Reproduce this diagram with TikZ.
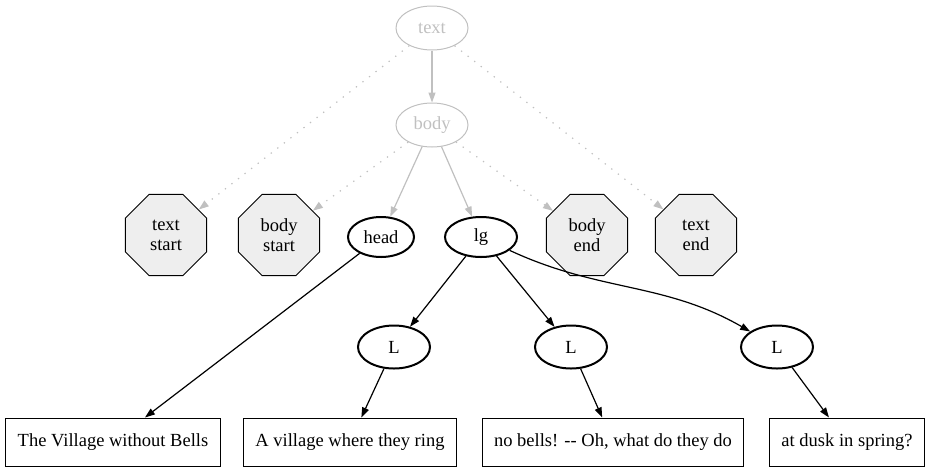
\documentclass[tikz,border=0pt]{standalone}
\usepackage{fontspec}
\setmainfont{Liberation Serif}
\usetikzlibrary{shapes.geometric, arrows.meta, positioning}
\definecolor{lightgrey}{HTML}{C0C0C0}
\definecolor{octgrey}{HTML}{EEEEEE}

\begin{document}
\begin{tikzpicture}[x=1pt, y=-1pt,
	every node/.style={font=\fontsize{18.5}{20}\selectfont, inner sep=0pt},
	greyell/.style={ellipse, draw=lightgrey, text=lightgrey, line width=1pt, minimum width=72, minimum height=44},
	boldell/.style={ellipse, draw, line width=2pt, minimum width=70, minimum height=40},
	octa/.style={regular polygon, regular polygon sides=8, draw, fill=octgrey, line width=1pt, minimum size=88, align=center},
	leaf/.style={rectangle, draw, line width=1pt, minimum height=48, inner xsep=12pt},
	greyarr/.style={draw=lightgrey, line width=1.2pt, -{Triangle[length=10pt, width=7pt, fill=lightgrey]}},
	dotarr/.style={greyarr, dash pattern=on 1.3pt off 7pt},
	blackarr/.style={line width=1.2pt, -{Triangle[length=10pt, width=7pt]}}]
	\useasboundingbox (0,0) rectangle (928,472);

	\draw (432,28) node[greyell] (txt) {text}
	(432,125) node[greyell] (body) {body}
	(166,235) node[octa] (txtstart) {text\\start}
	(279,235) node[octa] (bodystart) {body\\start}
	(381,237) node[boldell, minimum width=66] (head) {head}
	(481,237) node[boldell, minimum width=72] (lg) {lg}
	(587,235) node[octa] (bodyend) {body\\end}
	(696,235) node[octa] (txtend) {text\\end}
	(394,347) node[boldell, minimum width=72, minimum height=43] (l1) {L}
	(571,347) node[boldell, minimum width=72, minimum height=43] (l2) {L}
	(777,347) node[boldell, minimum width=72, minimum height=43] (l3) {L}
	(113,442) node[leaf] (title) {The Village without Bells}
	(350,442) node[leaf] (line1) {A village where they ring}
	(613,442) node[leaf] (line2) {no bells! -{}- Oh, what do they do}
	(847,442) node[leaf] (line3) {at dusk in spring?};

	\draw[greyarr] (txt) -- (body);
	\draw[dotarr] (txt) -- (txtstart);
	\draw[dotarr] (txt) -- (txtend);
	\draw[dotarr] (body) -- (bodystart);
	\draw[greyarr] (body) -- (head);
	\draw[greyarr] (body) -- (lg);
	\draw[dotarr] (body) -- (bodyend);
	\draw[blackarr] (head) -- (title);
	\draw[blackarr] (lg) -- (l1);
	\draw[blackarr] (lg) -- (l2);
	\draw[blackarr] (lg) to[out=-25, in=150] (l3);
	\draw[blackarr] (l1) -- (line1);
	\draw[blackarr] (l2) -- (line2);
	\draw[blackarr] (l3) -- (line3);
\end{tikzpicture}
\end{document}
